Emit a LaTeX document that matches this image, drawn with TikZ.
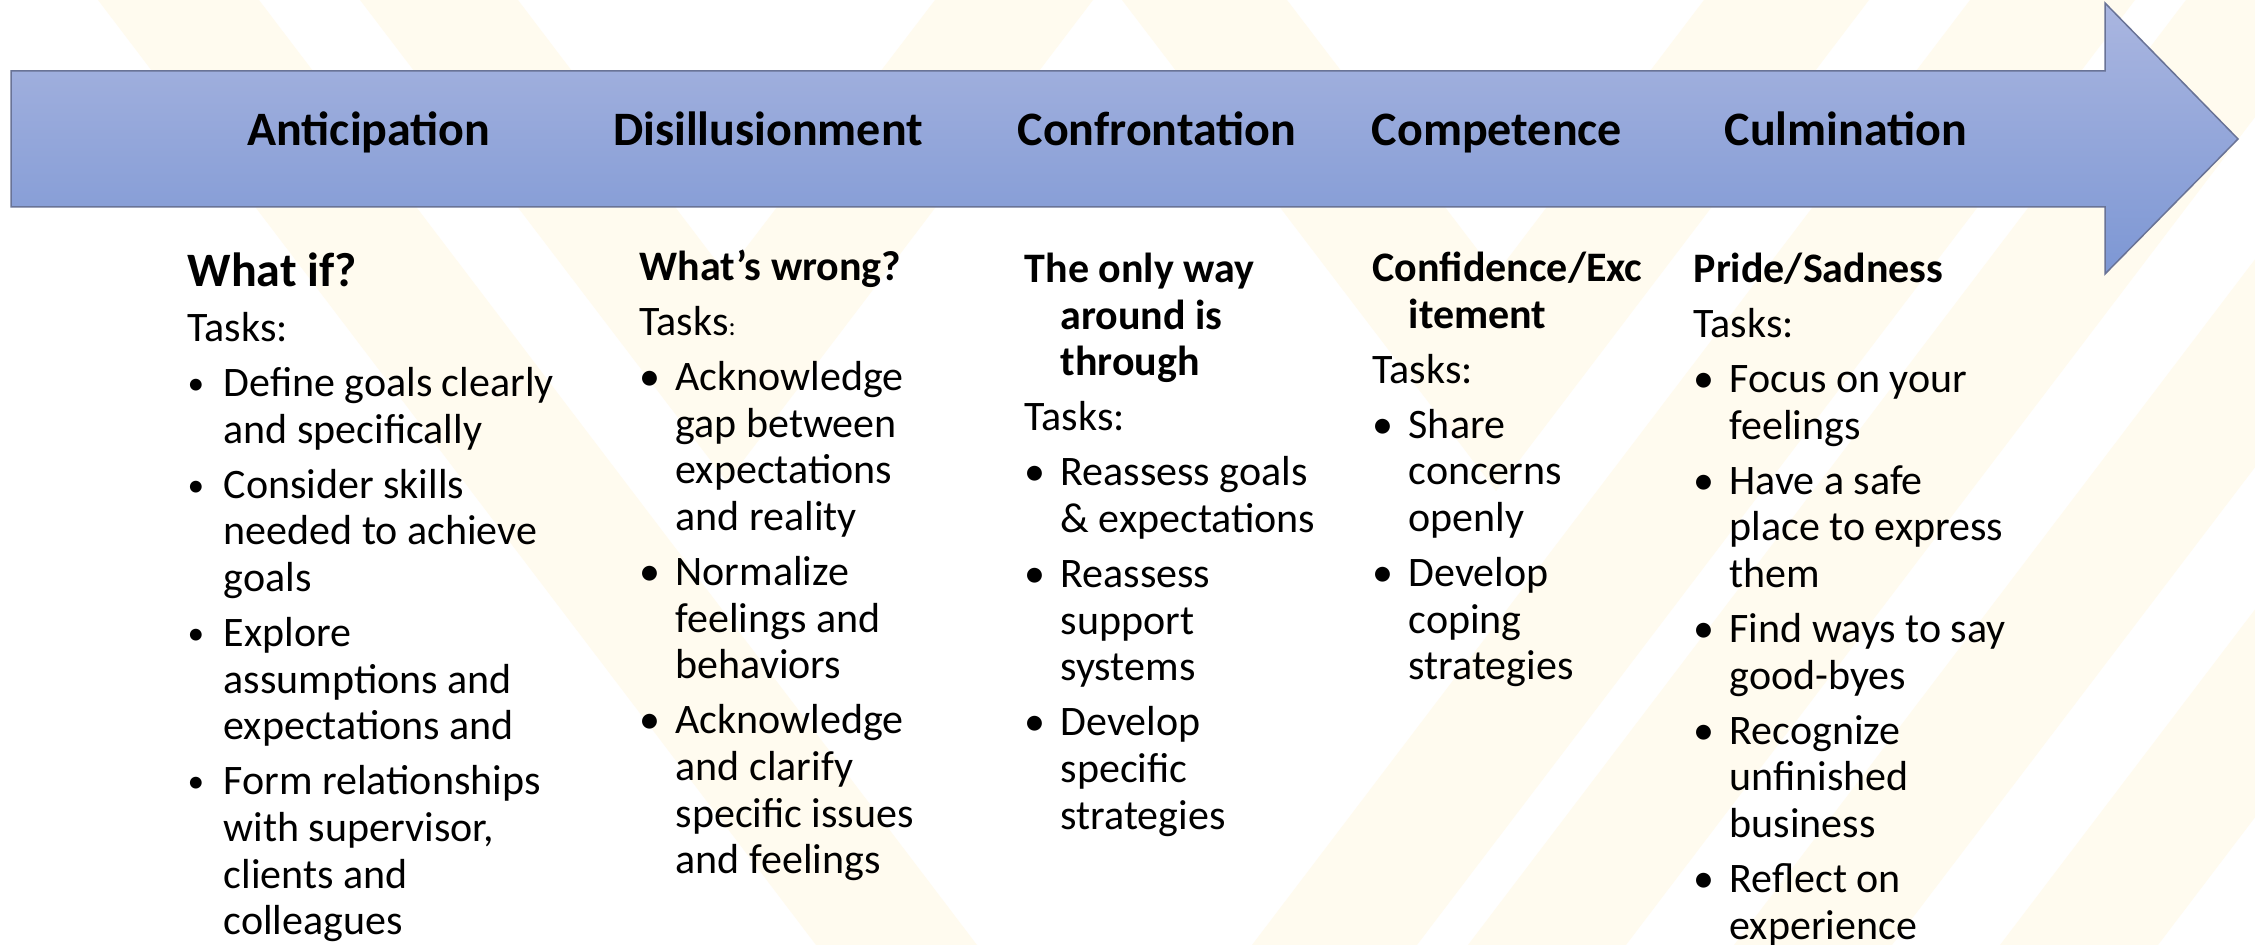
\documentclass[tikz,border=0pt]{standalone}
\usepackage{fontspec}
\usepackage{graphicx}
\setmainfont{Carlito}
\definecolor{creamc}{RGB}{255,251,239}
\definecolor{arrowtop}{RGB}{170,182,224}
\definecolor{arrowbot}{RGB}{125,151,212}
\definecolor{arrowline}{RGB}{105,115,150}
\newcommand{\bul}{\makebox[10.8pt][l]{\textbullet}}
\newcommand{\sbul}{\makebox[10.8pt][l]{\raisebox{0.6pt}{\fontsize{10}{10}\selectfont\textbullet}}}
\newcommand{\hang}{\hspace*{10.8pt}}
\newcommand{\pgap}{\\[2.5pt]}
\newcommand{\topstrut}{\rule{0pt}{11pt}}
\tikzset{
  band/.style={fill=creamc, draw=none},
  arrowshape/.style={draw=arrowline, line width=0.45pt, top color=arrowtop, bottom color=arrowbot},
  stagelbl/.style={font=\fontsize{14.4}{16}\selectfont\bfseries, anchor=base, inner sep=0pt},
  col/.style={font=\fontsize{12.6}{14}\selectfont, align=left, anchor=north west, inner sep=0pt},
}
\begin{document}
\begin{tikzpicture}[x=0.3pt, y=-0.3pt]
\useasboundingbox (0,0) rectangle (2255,945);
\fill[white] (0,0) rectangle (2255,945);
% background chevron bands
\begin{scope}
\clip (0,0) rectangle (2255,945);
\path[band] (98,0) -- (259,0) -- (977,945) -- (816,945) -- cycle;
\path[band] (360,0) -- (727,482) -- (1093,0) -- (935,0) -- (726,274) -- (518,0) -- cycle;
\path[band] (1122,0) -- (1496,491) -- (1869,0) -- (1704,0) -- (1496,274) -- (1287,0) -- cycle;
\path[band] (1970,0) -- (2135,0) -- (1417,945) -- (1252,945) -- cycle;
\path[band] (2186,0) -- (2344,0) -- (1626,945) -- (1468,945) -- cycle;
\path[band] (2452,0) -- (2610,0) -- (1892,945) -- (1734,945) -- cycle;
\path[band] (2718,0) -- (2876,0) -- (2158,945) -- (2000,945) -- cycle;
\end{scope}
% big arrow
\path[arrowshape] (11,71) -- (2105,71) -- (2105,3) -- (2238,139) -- (2105,274) -- (2105,207) -- (11,207) -- cycle;
% stage labels
\node[stagelbl] (s1) at (369,146) {Anticipation};
\node[stagelbl] (s2) at (768,146) {Disillusionment};
\node[stagelbl] (s3) at (1157,146) {Confrontation};
\node[stagelbl] (s4) at (1497,146) {Competence};
\node[stagelbl] (s5) at (1846,146) {Culmination};
% columns (north = first baseline - 11pt)
\node[col] (c1) at (187,249.3) {\topstrut{\fontsize{14.4}{14}\selectfont\bfseries What if?}\pgap
Tasks:\pgap
\sbul Define goals clearly\\
\hang and specifically\pgap
\sbul Consider skills\\
\hang needed to achieve\\
\hang goals\pgap
\sbul Explore\\
\hang assumptions and\\
\hang expectations and\pgap
\sbul Form relationships\\
\hang with supervisor,\\
\hang clients and\\
\hang colleagues};
\node[col] (c2) at (639,243.3) {\topstrut\textbf{What’s wrong?}\pgap
Tasks{\fontsize{8}{9}\selectfont :}\pgap
\bul Acknowledge\\
\hang gap between\\
\hang expectations\\
\hang and reality\pgap
\bul Normalize\\
\hang feelings and\\
\hang behaviors\pgap
\bul Acknowledge\\
\hang and clarify\\
\hang specific issues\\
\hang and feelings};
\node[col] (c3) at (1024,245.3) {\topstrut\textbf{The only way}\\
\hang\textbf{around is}\\
\hang\textbf{through}\pgap
Tasks:\pgap
\bul Reassess goals\\
\hang \& expectations\pgap
\bul Reassess\\
\hang support\\
\hang systems\pgap
\bul Develop\\
\hang specific\\
\hang strategies};
\node[col] (c4) at (1372,244.3) {\topstrut\textbf{Confidence/Exc}\\
\hang\textbf{itement}\pgap
Tasks:\pgap
\bul Share\\
\hang concerns\\
\hang openly\pgap
\bul Develop\\
\hang coping\\
\hang strategies};
\node[col] (c5) at (1693,245.3) {\topstrut\textbf{Pride/Sadness}\pgap
Tasks:\pgap
\bul Focus on your\\
\hang feelings\pgap
\bul Have a safe\\
\hang place to express\\
\hang them\pgap
\bul Find ways to say\\
\hang good-byes\pgap
\bul Recognize\\
\hang unfinished\\
\hang business\pgap
\bul Reflect on\\
\hang experience};
\end{tikzpicture}
\end{document}
